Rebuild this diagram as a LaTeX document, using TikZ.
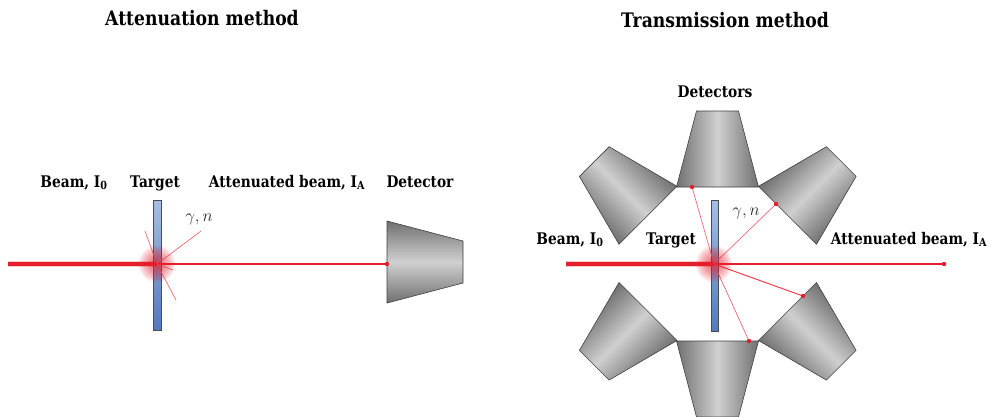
\documentclass[tikz,border=0pt]{standalone}
\usepackage{fontspec}
\newfontfamily\lblfont{DejaVu Serif}[FakeStretch=0.86]
\usepackage{tikz}
\usetikzlibrary{calc}

\definecolor{beamred}{RGB}{228,30,45}
\definecolor{scatred}{RGB}{238,105,115}
\definecolor{detdark}{RGB}{112,112,112}
\definecolor{detlight}{RGB}{208,208,208}
\definecolor{tgtlight}{RGB}{165,190,228}
\definecolor{tgtdark}{RGB}{82,122,188}

% one detector: face centred at (#1,#2), turned by #3
\newcommand{\detector}[3]{%
  \begin{scope}[transform canvas={shift={(#1,#2)},rotate=#3}]
    \shade[detector] (-41,0) -- (41,0) -- (21,-76) -- (-21,-76) -- cycle;
  \end{scope}}

\begin{document}
\begin{tikzpicture}[x=1pt,y=-1pt,
    title/.style={font=\lblfont\bfseries\fontsize{20}{24}\selectfont, anchor=base},
    lbl/.style={font=\lblfont\bfseries\fontsize{16}{19}\selectfont, anchor=base},
    gn/.style={font=\fontsize{17}{20}\selectfont, text=black!85},
    detector/.style={left color=detdark, right color=detdark, middle color=detlight,
      draw=black!75, line width=0.6pt},
    target/.style={top color=tgtlight, bottom color=tgtdark, draw=black!70, line width=0.5pt},
    beam/.style={beamred, line width=3.4pt},
    halo/.style={beamred, line width=6.5pt, opacity=0.25},
    beamthin/.style={beamred, line width=1.5pt},
    scatter/.style={scatred, line width=0.7pt},
    hitdot/.style={fill=beamred}]
  \useasboundingbox (0,0) rectangle (993,416);

  % Titles
  \node[title] (ttlA) at (202,25) {Attenuation method};
  \node[title] (ttlT) at (725,27) {Transmission method};

  % ---------- Attenuation method ----------
  \coordinate (srcL) at (8,264);
  \coordinate (hitL) at (157,264);
  \coordinate (detL) at (387,264);
  \coordinate (gamL) at (201,231);
  \coordinate (ulL) at (145,231);
  \coordinate (drL) at (176,300);
  \coordinate (rL) at (173,270);

  \detector{387}{262}{-90}
  \shade[target] (153,200) rectangle (161,330);

  \draw[halo] (srcL) -- (hitL);
  \draw[beam] (srcL) -- (hitL);
  \draw[beamthin] (hitL) -- (detL);
  \draw[scatter] (hitL) -- (gamL);
  \draw[scatter] (hitL) -- (ulL);
  \draw[scatter] (hitL) -- (drL);
  \draw[scatter] (hitL) -- (rL);
  \foreach \r in {18,16,...,4}
    \fill[beamred, opacity=0.11] (hitL) circle (\r pt);
  \fill[hitdot] (detL) circle (2.2pt);

  \node[lbl] (beamL) at (74,187) {Beam, I\textsubscript{0}};
  \node[lbl] (tgtL) at (155,187) {Target};
  \node[lbl] (attL) at (287,187) {Attenuated beam, I\textsubscript{A}};
  \node[lbl] (detLbl) at (420,187) {Detector};
  \node[gn] (gnL) at (199,219) {$\gamma, n$};

  % ---------- Transmission method ----------
  \coordinate (srcR) at (566,264);
  \coordinate (hitR) at (714,264);
  \coordinate (endR) at (944,264);
  \coordinate (dTop) at (692,187);
  \coordinate (dBot) at (749,341);
  \coordinate (dUR) at (776,204);
  \coordinate (dLR) at (803,296);

  \detector{717.5}{187}{0}
  \detector{648}{215.3}{45}
  \detector{787.5}{215.3}{-45}
  \detector{648}{311.5}{135}
  \detector{787.5}{311.5}{-135}
  \detector{717.5}{341}{180}
  \shade[target] (711,200) rectangle (718,331);

  \draw[halo] (srcR) -- (hitR);
  \draw[beam] (srcR) -- (hitR);
  \draw[beamthin] (hitR) -- (endR);
  \draw[scatter] (hitR) -- (dTop);
  \draw[scatter] (hitR) -- (dBot);
  \draw[scatter] (hitR) -- (dUR);
  \draw[beamred!85, line width=1pt] (hitR) -- (dLR);
  \foreach \r in {18,16,...,4}
    \fill[beamred, opacity=0.11] (hitR) circle (\r pt);
  \foreach \p in {endR,dTop,dBot,dUR,dLR}
    \fill[hitdot] (\p) circle (2.2pt);

  \node[lbl] (detsLbl) at (715,97) {Detectors};
  \node[lbl] (beamR) at (570,244) {Beam, I\textsubscript{0}};
  \node[lbl] (tgtR) at (671,244) {Target};
  \node[lbl] (attR) at (909,244) {Attenuated beam, I\textsubscript{A}};
  \node[gn] (gnR) at (746,213) {$\gamma, n$};
\end{tikzpicture}
\end{document}
